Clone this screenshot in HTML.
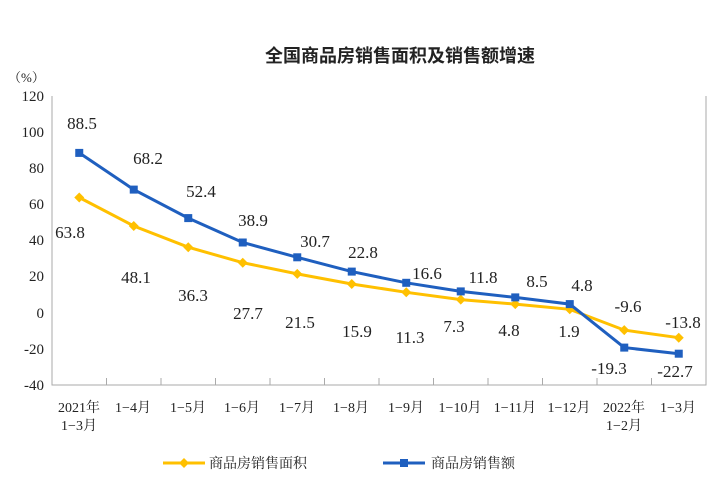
<!DOCTYPE html>
<html><head><meta charset="utf-8"><style>
body{margin:0;background:#fff}
svg text{font-family:"Liberation Serif","Noto Serif CJK SC",serif;fill:#222}
</style></head><body>
<svg width="726" height="489" viewBox="0 0 726 489" xmlns="http://www.w3.org/2000/svg">
<text x="400" y="62" font-size="18" text-anchor="middle" font-weight="bold" style="font-family:'Noto Sans CJK SC',sans-serif">全国商品房销售面积及销售额增速</text>
<text x="8" y="82" font-size="13">（%）</text>
<g stroke="#aaa" stroke-width="1" fill="none">
<path d="M52 96V385H706V96"/>
<path d="M106.5 385v-7M161 385v-7M215.5 385v-7M270 385v-7M324.5 385v-7M379 385v-7M433.5 385v-7M488 385v-7M542.5 385v-7M597 385v-7M651.5 385v-7"/>
</g>
<g font-size="15" text-anchor="end">
<text x="44" y="101">120</text><text x="44" y="137">100</text><text x="44" y="173">80</text><text x="44" y="209">60</text><text x="44" y="245">40</text><text x="44" y="281">20</text><text x="44" y="318">0</text><text x="44" y="354">-20</text><text x="44" y="390">-40</text>
</g>
<g font-size="14" text-anchor="middle">
<text x="79" y="412">2021年</text><text x="79" y="430">1−3月</text>
<text x="133" y="412">1−4月</text><text x="188" y="412">1−5月</text><text x="242" y="412">1−6月</text><text x="297" y="412">1−7月</text><text x="351" y="412">1−8月</text><text x="406" y="412">1−9月</text><text x="460" y="412">1−10月</text><text x="515" y="412">1−11月</text><text x="569" y="412">1−12月</text><text x="624" y="412">2022年</text><text x="624" y="430">1−2月</text><text x="678" y="412">1−3月</text>
</g>
<polyline fill="none" stroke="#ffc000" stroke-width="3" points="79.25,197.5 133.75,226 188.25,247.2 242.75,262.7 297.25,273.9 351.75,284 406.25,292.3 460.75,299.6 515.25,304.1 569.75,309.3 624.25,330.1 678.75,337.7"/>
<g fill="#ffc000">
<path d="M79.25 192.5l5 5-5 5-5-5z"/><path d="M133.75 221l5 5-5 5-5-5z"/><path d="M188.25 242.2l5 5-5 5-5-5z"/><path d="M242.75 257.7l5 5-5 5-5-5z"/><path d="M297.25 268.9l5 5-5 5-5-5z"/><path d="M351.75 279l5 5-5 5-5-5z"/><path d="M406.25 287.3l5 5-5 5-5-5z"/><path d="M460.75 294.6l5 5-5 5-5-5z"/><path d="M515.25 299.1l5 5-5 5-5-5z"/><path d="M569.75 304.3l5 5-5 5-5-5z"/><path d="M624.25 325.1l5 5-5 5-5-5z"/><path d="M678.75 332.7l5 5-5 5-5-5z"/>
</g>
<polyline fill="none" stroke="#1f5fbf" stroke-width="3" points="79.25,152.9 133.75,189.6 188.25,218.1 242.75,242.5 297.25,257.3 351.75,271.6 406.25,282.8 460.75,291.4 515.25,297.4 569.75,304.1 624.25,347.6 678.75,353.7"/>
<g fill="#1f5fbf">
<rect x="75.25" y="148.9" width="8" height="8"/><rect x="129.75" y="185.6" width="8" height="8"/><rect x="184.25" y="214.1" width="8" height="8"/><rect x="238.75" y="238.5" width="8" height="8"/><rect x="293.25" y="253.3" width="8" height="8"/><rect x="347.75" y="267.6" width="8" height="8"/><rect x="402.25" y="278.8" width="8" height="8"/><rect x="456.75" y="287.4" width="8" height="8"/><rect x="511.25" y="293.4" width="8" height="8"/><rect x="565.75" y="300.1" width="8" height="8"/><rect x="620.25" y="343.6" width="8" height="8"/><rect x="674.75" y="349.7" width="8" height="8"/>
</g>
<g font-size="17" text-anchor="middle">
<text x="82" y="129">88.5</text><text x="148" y="164">68.2</text><text x="201" y="197">52.4</text><text x="253" y="226">38.9</text><text x="315" y="247">30.7</text><text x="363" y="258">22.8</text><text x="427" y="279">16.6</text><text x="483" y="283">11.8</text><text x="537" y="287">8.5</text><text x="582" y="291">4.8</text>
<text x="628" y="312">-9.6</text><text x="683" y="328">-13.8</text><text x="609" y="374">-19.3</text><text x="675" y="377">-22.7</text>
<text x="70" y="238">63.8</text><text x="136" y="283">48.1</text><text x="193" y="301">36.3</text><text x="248" y="319">27.7</text><text x="300" y="328">21.5</text><text x="357" y="337">15.9</text><text x="410" y="343">11.3</text><text x="454" y="332">7.3</text><text x="509" y="336">4.8</text><text x="569" y="337">1.9</text>
</g>
<line x1="163" y1="463" x2="205" y2="463" stroke="#ffc000" stroke-width="3"/>
<path d="M184 458l5 5-5 5-5-5z" fill="#ffc000"/>
<text x="209" y="468" font-size="14">商品房销售面积</text>
<line x1="383" y1="463" x2="425" y2="463" stroke="#1f5fbf" stroke-width="3"/>
<rect x="400" y="459" width="8" height="8" fill="#1f5fbf"/>
<text x="431" y="468" font-size="14">商品房销售额</text>
</svg>
</body></html>
